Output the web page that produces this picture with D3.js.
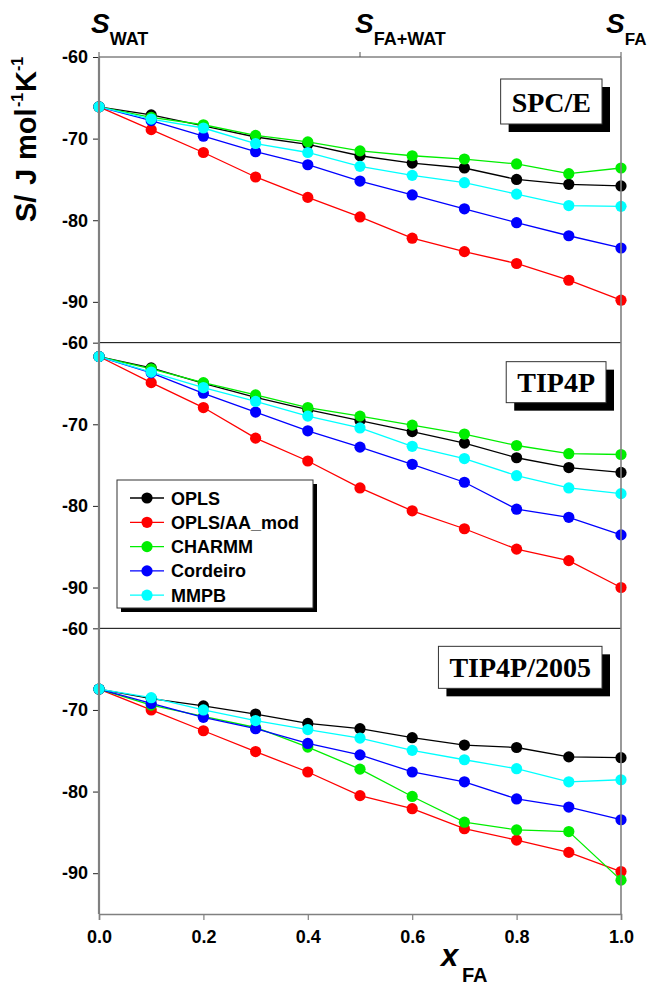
<!DOCTYPE html>
<html><head><meta charset="utf-8">
<script src="https://cdn.jsdelivr.net/npm/d3@7"></script>
<style>
body{margin:0;background:#fff;}
svg{display:block;}
text{font-family:Arial,"Liberation Sans",sans-serif;}
</style></head>
<body><svg id="c" width="647" height="987"></svg>
<script>
// ---------- data ----------
const xValues = [0.0,0.1,0.2,0.3,0.4,0.5,0.6,0.7,0.8,0.9,1.0];
const seriesNames = ["OPLS","OPLS/AA_mod","CHARMM","Cordeiro","MMPB"];
const seriesColors = ["#000000","#ff0000","#00ee00","#0000ff","#00ffff"];
const panelNames = ["SPC/E","TIP4P","TIP4P/2005"];
const yTicks = [-60,-70,-80,-90];
const xTicks = [0.0,0.2,0.4,0.6,0.8,1.0];
const topTickLabels = [["WAT",0.0],["FA+WAT",0.5],["FA",1.0]];

// SPC/E
const spce_OPLS     = [-66.1,-67.1,-68.45,-69.8,-70.7,-72.1,-73.0,-73.6,-75.0,-75.6,-75.8];
const spce_OPLSAA   = [-66.1,-68.9,-71.7,-74.7,-77.2,-79.6,-82.2,-83.85,-85.3,-87.35,-89.8];
const spce_CHARMM   = [-66.1,-67.4,-68.3,-69.6,-70.4,-71.5,-72.1,-72.5,-73.1,-74.3,-73.6];
const spce_Cordeiro = [-66.1,-67.8,-69.7,-71.6,-73.2,-75.2,-76.9,-78.6,-80.3,-81.9,-83.4];
const spce_MMPB     = [-66.1,-67.6,-68.7,-70.6,-71.7,-73.4,-74.5,-75.4,-76.8,-78.2,-78.3];
// TIP4P
const tip4p_OPLS     = [-61.7,-63.1,-65.0,-66.7,-68.2,-69.55,-70.9,-72.3,-74.1,-75.3,-75.9];
const tip4p_OPLSAA   = [-61.7,-64.9,-67.95,-71.7,-74.5,-77.8,-80.6,-82.8,-85.3,-86.7,-90.0];
const tip4p_CHARMM   = [-61.7,-63.2,-64.9,-66.4,-67.95,-69.0,-70.1,-71.2,-72.6,-73.6,-73.7];
const tip4p_Cordeiro = [-61.7,-63.7,-66.2,-68.5,-70.8,-72.8,-74.9,-77.1,-80.4,-81.4,-83.55];
const tip4p_MMPB     = [-61.7,-63.6,-65.5,-67.2,-69.0,-70.45,-72.7,-74.2,-76.3,-77.8,-78.5];
// TIP4P/2005
const t2005_OPLS     = [-67.45,-68.6,-69.5,-70.5,-71.65,-72.3,-73.4,-74.3,-74.6,-75.75,-75.85];
const t2005_OPLSAA   = [-67.45,-70.0,-72.55,-75.1,-77.6,-80.5,-82.1,-84.55,-85.95,-87.45,-89.8];
const t2005_CHARMM   = [-67.45,-69.4,-70.8,-72.15,-74.55,-77.25,-80.6,-83.75,-84.7,-84.9,-90.85];
const t2005_Cordeiro = [-67.45,-69.2,-70.9,-72.3,-74.1,-75.5,-77.6,-78.8,-80.9,-81.9,-83.45];
const t2005_MMPB     = [-67.45,-68.5,-70.0,-71.3,-72.4,-73.45,-74.95,-76.1,-77.2,-78.8,-78.55];

const panelSeries = [
  [spce_OPLS,spce_OPLSAA,spce_CHARMM,spce_Cordeiro,spce_MMPB],
  [tip4p_OPLS,tip4p_OPLSAA,tip4p_CHARMM,tip4p_Cordeiro,tip4p_MMPB],
  [t2005_OPLS,t2005_OPLSAA,t2005_CHARMM,t2005_Cordeiro,t2005_MMPB]
];

// ---------- layout ----------
const svg = d3.select("#c");
const pLeft = 99, pRight = 621, pTop0 = 57, pBottom = 914;
const panelH = (pBottom - pTop0) / 3;
const x = d3.scaleLinear().domain([0,1]).range([pLeft,pRight]);
const tickFont = "bold 18px Arial, 'Liberation Sans', sans-serif";

panelNames.forEach((name, p) => {
  const pTop = pTop0 + p * panelH;
  const y = d3.scaleLinear().domain([-95,-60]).range([pTop + panelH, pTop]);
  const g = svg.append("g");

  const ax = d3.axisLeft(y).tickValues(yTicks).tickSize(6).tickPadding(5).tickFormat(d3.format("d"));
  const ga = g.append("g").attr("transform",`translate(${pLeft},0)`).call(ax);
  ga.select(".domain").remove();
  ga.selectAll(".tick line").attr("stroke","#222").attr("stroke-width",1);
  ga.selectAll(".tick text").style("font",tickFont).attr("fill","#000").text(d => String(d));

  g.append("line").attr("x1",pLeft).attr("x2",pRight).attr("y1",pTop).attr("y2",pTop)
    .attr("stroke", p===0 ? "#444" : "#000").attr("stroke-width",1);

  const line = d3.line().x((d,i)=>x(xValues[i])).y(d=>y(d));
  panelSeries[p].forEach((vals, s) => {
    g.append("path").datum(vals).attr("d",line).attr("fill","none")
      .attr("stroke",seriesColors[s]).attr("stroke-width",1.3);
  });
  panelSeries[p].forEach((vals, s) => {
    g.selectAll(null).data(vals).enter().append("circle")
      .attr("cx",(d,i)=>x(xValues[i])).attr("cy",d=>y(d)).attr("r",5.6)
      .attr("fill",seriesColors[s]);
  });

  const lg2 = g.append("g");
  const shadow = lg2.append("rect").attr("fill","#000");
  const box = lg2.append("rect").attr("fill","#fff").attr("stroke","#333").attr("stroke-width",1);
  const lab = lg2.append("text").text(name)
    .style("font","bold 28px 'Times New Roman','Liberation Serif',serif")
    .attr("text-anchor","end");
  const rightEdge = [602,606,602][p];
  const boxTop = pTop + [22,19,18][p];
  const boxH = [45,41,42][p];
  const tw = lab.node().getComputedTextLength();
  const padX = 11;
  const bx = rightEdge - tw - 2*padX;
  shadow.attr("x",bx+8).attr("y",boxTop+8).attr("width",tw+2*padX).attr("height",boxH);
  box.attr("x",bx).attr("y",boxTop).attr("width",tw+2*padX).attr("height",boxH);
  lab.attr("x",rightEdge - padX).attr("y",boxTop + boxH/2 + 10);
});

svg.append("line").attr("x1",pLeft).attr("x2",pLeft).attr("y1",pTop0).attr("y2",pBottom)
  .attr("stroke","#808080").attr("stroke-width",2.2);
svg.append("line").attr("x1",pRight).attr("x2",pRight).attr("y1",pTop0).attr("y2",pBottom)
  .attr("stroke","#808080").attr("stroke-width",1.6);

const xb = svg.append("g").attr("transform",`translate(0,${pBottom})`)
  .call(d3.axisBottom(x).tickValues(xTicks).tickSize(6).tickPadding(10).tickFormat(d3.format(".1f")));
xb.select(".domain").attr("stroke","#808080").attr("stroke-width",1.6);
xb.selectAll(".tick line").attr("stroke","#808080").attr("stroke-width",1.2);
xb.selectAll(".tick text").style("font",tickFont).attr("fill","#000");

// top ticks and S labels
const topPos = topTickLabels.map(d => d[1]);
svg.selectAll(null).data(topPos).enter().append("line")
  .attr("x1",d=>x(d)).attr("x2",d=>x(d)).attr("y1",pTop0).attr("y2",pTop0-5)
  .attr("stroke","#555").attr("stroke-width",1);
const sOffsets = [-8,-5,-15];
const subSizes = [18,18,17];
topTickLabels.forEach((d,i) => {
  const t = svg.append("text").attr("x", x(d[1]) + sOffsets[i]).attr("y",33)
    .style("font-weight","bold");
  t.append("tspan").text("S").style("font-style","italic").style("font-size","28px");
  t.append("tspan").text(d[0]).attr("dy",12).style("font-size",subSizes[i]+"px");
});

// legend
const lg = svg.append("g");
const lx = 117, ly = 480, lw = 196, lh = 128;
lg.append("rect").attr("x",lx+4).attr("y",ly+4).attr("width",lw).attr("height",lh).attr("fill","#000");
lg.append("rect").attr("x",lx).attr("y",ly).attr("width",lw).attr("height",lh).attr("fill","#fff")
  .attr("stroke","#333").attr("stroke-width",1);
seriesNames.forEach((n,i) => {
  const yy = ly + 18 + i*24.3;
  lg.append("line").attr("x1",lx+13).attr("x2",lx+47).attr("y1",yy).attr("y2",yy)
    .attr("stroke",seriesColors[i]).attr("stroke-width",1.3);
  lg.append("circle").attr("cx",lx+30).attr("cy",yy).attr("r",5.6).attr("fill",seriesColors[i]);
  lg.append("text").attr("x",lx+54).attr("y",yy+6.5).text(n).style("font",tickFont).attr("fill","#000");
});

// y axis title (rotated)
const yt = svg.append("text").attr("transform","translate(36,222) rotate(-90)")
  .style("font-weight","bold").style("font-size","29px").attr("fill","#000");
yt.append("tspan").attr("x",0).attr("y",0).text("S/");
yt.append("tspan").attr("x",37).attr("y",0).text("J");
yt.append("tspan").attr("x",62).attr("y",0).text("mol");
yt.append("tspan").attr("x",115).attr("y",-13).style("font-size","16px").text("-1");
yt.append("tspan").attr("x",130).attr("y",0).text("K");
yt.append("tspan").attr("x",151).attr("y",-13).style("font-size","16px").text("-1");

// x axis title
const xt = svg.append("text").attr("x",441).attr("y",966).style("font-weight","bold");
xt.append("tspan").text("x").style("font-style","italic").style("font-size","31px");
xt.append("tspan").text("FA").attr("x",462).attr("y",982).style("font-size","20px");
</script></body></html>
